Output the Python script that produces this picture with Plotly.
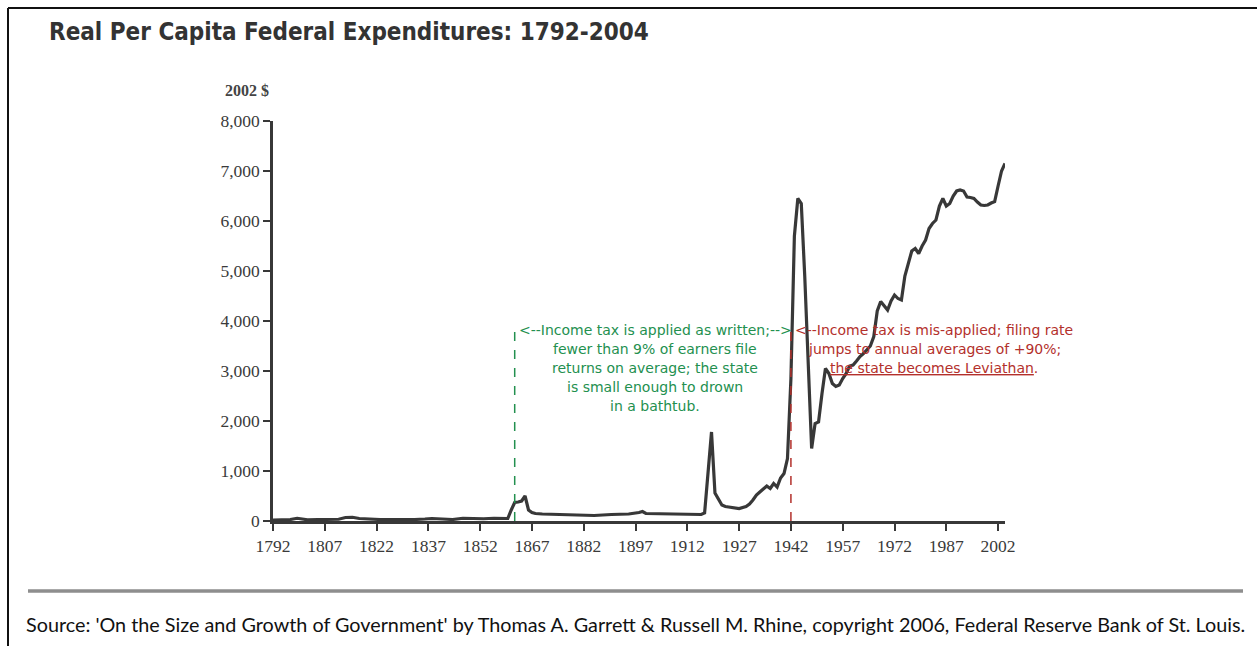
import plotly.graph_objects as go

# ---------------- data ----------------
years = [1792, 1795, 1797, 1799, 1800, 1802, 1805, 1808, 1811, 1813, 1815, 1817,
         1820, 1823, 1826, 1830, 1833, 1836, 1838, 1841, 1844, 1847, 1850, 1853,
         1856, 1859, 1860, 1861, 1862, 1863, 1864, 1865, 1866, 1867, 1868, 1870,
         1875, 1880, 1885, 1890, 1895, 1898, 1899, 1900, 1905, 1910, 1915, 1916,
         1917, 1918, 1919, 1920, 1921, 1922, 1923, 1925, 1927, 1929, 1930, 1931,
         1932, 1933, 1934, 1935, 1936, 1937, 1938, 1939, 1940, 1941, 1942, 1943,
         1944, 1945, 1946, 1947, 1948, 1949, 1950, 1951, 1952, 1953, 1954, 1955,
         1956, 1957, 1958, 1959, 1960, 1961, 1962, 1963, 1964, 1965, 1966, 1967,
         1968, 1969, 1970, 1971, 1972, 1973, 1974, 1975, 1976, 1977, 1978, 1979,
         1980, 1981, 1982, 1983, 1984, 1985, 1986, 1987, 1988, 1989, 1990, 1991,
         1992, 1993, 1994, 1995, 1996, 1997, 1998, 1999, 2000, 2001, 2002, 2003,
         2004]
spending = [20, 25, 30, 55, 40, 25, 30, 25, 35, 70, 75, 50,
            35, 30, 30, 25, 30, 40, 50, 40, 30, 55, 45, 45,
            55, 50, 50, 220, 370, 380, 400, 500, 220, 170, 150, 140,
            130, 120, 110, 130, 140, 170, 190, 150, 140, 130, 120, 130,
            160, 900, 1780, 560, 450, 320, 290, 270, 250, 290, 340, 420,
            520, 580, 650, 700, 650, 750, 680, 860, 950, 1250, 2850, 5700,
            6450, 6350, 4900, 3100, 1450, 1950, 1980, 2550, 3050, 2950, 2750, 2690,
            2720, 2850, 2950, 3100, 3120, 3200, 3290, 3350, 3420, 3500, 3690, 4200,
            4390, 4300, 4220, 4400, 4520, 4450, 4420, 4900, 5150, 5400, 5450, 5350,
            5500, 5620, 5850, 5950, 6020, 6300, 6450, 6300, 6350, 6500, 6600, 6620,
            6600, 6480, 6470, 6450, 6380, 6320, 6310, 6320, 6360, 6390, 6700, 7000,
            7150]

x_ticks = list(range(1792, 2003, 15))
y_ticks = list(range(0, 8001, 1000))
y_tick_labels = [f"{v:,}" for v in y_ticks]

income_tax_year = 1862
misapplied_year = 1942
marker_top = 3960

green_lines = ["&lt;--Income tax is applied as written;--&gt;",
               "fewer than 9% of earners file",
               "returns on average; the state",
               "is small enough to drown",
               "in a bathtub."]
red_lines = ["&lt;--Income tax is mis-applied; filing rate",
             "jumps to annual averages of +90%;",
             "<u>the state becomes Leviathan</u>."]

title_text = "Real Per Capita Federal Expenditures: 1792-2004"
unit_text = "2002 $"
source_text = ("Source: 'On the Size and Growth of Government' by Thomas A. Garrett &amp; "
               "Russell M. Rhine, copyright 2006, Federal Reserve Bank of St. Louis.")

# ---------------- geometry helpers ----------------
W, H = 1257, 646
L, R, T, B = 273, 252, 121, 125
PW, PH = W - L - R, H - T - B


def px(xp):
    return (xp - L) / PW


def py(yp):
    return (H - B - yp) / PH


GREEN = "#23904f"
RED = "#b3302c"
INK = "#383838"

fig = go.Figure()
fig.add_trace(go.Scatter(x=years, y=spending, mode="lines",
                         line=dict(color=INK, width=3.2), hoverinfo="skip",
                         showlegend=False))

shapes = [
    dict(type="line", xref="x", yref="y", x0=income_tax_year, x1=income_tax_year,
         y0=0, y1=marker_top, line=dict(color=GREEN, width=1.5, dash="dash")),
    dict(type="line", xref="x", yref="y", x0=misapplied_year, x1=misapplied_year,
         y0=0, y1=marker_top, line=dict(color=RED, width=1.5, dash="dash")),
    # frame
    dict(type="line", xref="paper", yref="paper", x0=px(8), x1=px(1257), y0=py(8), y1=py(8),
         line=dict(color="#111", width=2)),
    dict(type="line", xref="paper", yref="paper", x0=px(8), x1=px(8), y0=py(8), y1=py(646),
         line=dict(color="#111", width=2)),
    # gray rule
    dict(type="line", xref="paper", yref="paper", x0=px(28), x1=px(1243), y0=py(591), y1=py(591),
         line=dict(color="#8e8e8e", width=3.5)),
]

annotations = []
green_centers = [330, 349, 368, 387, 406]
for txt, yc in zip(green_lines, green_centers):
    annotations.append(dict(xref="paper", yref="paper", x=px(655), y=py(yc), text=txt,
                            showarrow=False, xanchor="center", yanchor="middle",
                            font=dict(family="DejaVu Sans", size=14, color=GREEN)))
red_centers = [330, 349, 368]
for txt, yc in zip(red_lines, red_centers):
    annotations.append(dict(xref="paper", yref="paper", x=px(934), y=py(yc), text=txt,
                            showarrow=False, xanchor="center", yanchor="middle",
                            font=dict(family="DejaVu Sans", size=14, color=RED)))
annotations.append(dict(xref="paper", yref="paper", x=px(271), y=py(90), text=f"<b>{unit_text}</b>",
                        showarrow=False, xanchor="right", yanchor="middle",
                        font=dict(family="Liberation Serif", size=16, color="#444")))
annotations.append(dict(xref="paper", yref="paper", x=px(47), y=py(32), text=f"<b>{title_text}</b>",
                        showarrow=False, xanchor="left", yanchor="middle",
                        font=dict(family="DejaVu Sans Condensed, DejaVu Sans, sans-serif",
                                  size=24, color="#333")))
annotations.append(dict(xref="paper", yref="paper", x=px(635.5), y=py(624), text=source_text,
                        showarrow=False, xanchor="center", yanchor="middle",
                        font=dict(family="Lato", size=19.8, color="#111")))

fig.update_layout(
    width=W, height=H,
    margin=dict(l=L, r=R, t=T, b=B, pad=0),
    paper_bgcolor="white", plot_bgcolor="white",
    shapes=shapes, annotations=annotations,
    xaxis=dict(range=[1792, 2004], tickmode="array", tickvals=x_ticks,
               ticks="outside", ticklen=7, tickwidth=2, tickcolor=INK,
               showline=True, linewidth=2.5, linecolor=INK, showgrid=False, zeroline=False,
               tickfont=dict(family="Liberation Serif", size=17.5, color="#3a3a3a")),
    yaxis=dict(range=[0, 8000], tickmode="array", tickvals=y_ticks, ticktext=y_tick_labels,
               ticks="outside", ticklen=7, tickwidth=2, tickcolor=INK,
               showline=True, linewidth=2.5, linecolor=INK, showgrid=False, zeroline=False,
               tickfont=dict(family="Liberation Serif", size=17.5, color="#3a3a3a")),
)

fig.write_html("out.html", config={"displayModeBar": False},
               post_script="document.body.style.margin='0px';")
